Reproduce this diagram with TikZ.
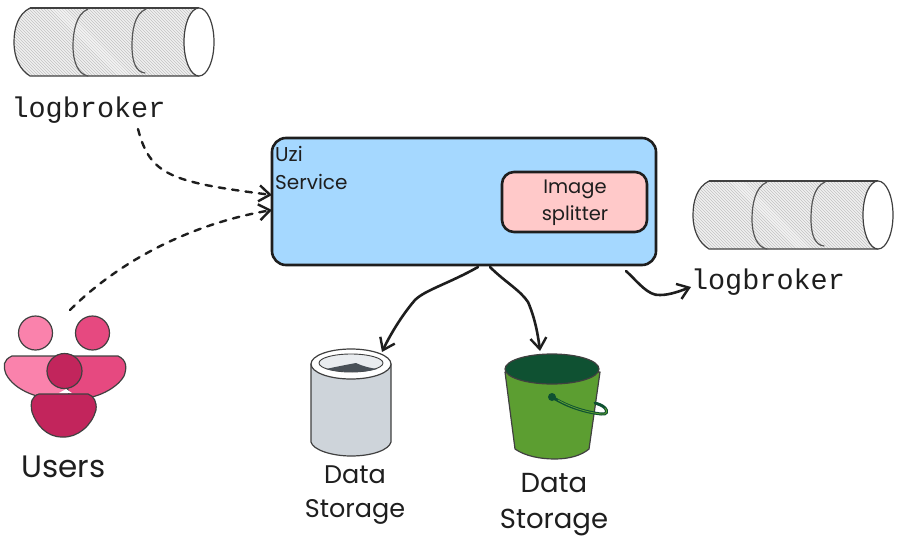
\documentclass[tikz,border=0pt]{standalone}
\usepackage{fontspec}
\setmainfont{Poppins}
\newfontfamily\monof{Liberation Mono}
\usetikzlibrary{arrows.meta}
\definecolor{ink}{HTML}{1E1E1E}
\definecolor{svcblue}{HTML}{A5D8FF}
\definecolor{splitpink}{HTML}{FFC9C9}
\definecolor{pinka}{HTML}{FA82AC}
\definecolor{pinkb}{HTML}{E64980}
\definecolor{pinkc}{HTML}{C2255C}
\definecolor{greybody}{HTML}{CED4DA}
\definecolor{greyin}{HTML}{E9ECEF}
\definecolor{greydark}{HTML}{495057}
\definecolor{bucketg}{HTML}{5C9E31}
\definecolor{bucketd}{HTML}{0F5132}
\tikzset{
  x=1pt,y=-1pt,
  conn/.style={draw=ink,line width=2.6pt,line cap=round,-{Straight Barb[length=11pt,width=16pt,line width=2.4pt]}},
  dashconn/.style={conn,line width=2.4pt,dash pattern=on 6.5pt off 7pt},
  mono/.style={font=\monof\fontsize{28.5}{31}\selectfont,text=ink,inner sep=0pt},
  hand/.style={text=ink,inner sep=0pt,align=center},
  outl/.style={draw=ink!85,line width=1.2pt,line join=round},
  hach/.style={draw=black!24,line width=.6pt},
  seam/.style={draw=ink!75,line width=1.2pt,line cap=round},
}
\newcommand{\logcyl}[2]{%
  \begin{scope}[shift={(#1,#2)}]
    \begin{scope}
      \clip (16,0) .. controls (4,6) and (0,20) .. (0,34) .. controls (0,50) and (6,62) .. (16,68) -- (185,68) -- (185,0) -- cycle;
      \fill[black!6] (0,0) rectangle (200,68);
      \foreach \i in {-24,...,90}{\draw[hach] (\i*3-10,0) -- ++(68,68);}
      \fill[white,opacity=.25] (36,0) -- (50,0) -- (118,68) -- (104,68) -- cycle;
    \end{scope}
    \draw[outl] (16,0) .. controls (4,6) and (0,20) .. (0,34) .. controls (0,50) and (6,62) .. (16,68) -- (185,68);
    \draw[outl] (16,0) -- (185,0);
    \draw[seam] (74,1) .. controls (62,6) and (59,24) .. (59,38) .. controls (59,54) and (64,66) .. (74,68);
    \draw[seam] (132,1) .. controls (120,6) and (118,24) .. (118,38) .. controls (118,54) and (122,64) .. (131,65);
    \draw[outl,fill=white] (185,34) ellipse [x radius=15,y radius=34];
  \end{scope}}
\begin{document}
\begin{tikzpicture}
\useasboundingbox (0,0) rectangle (902,541);
% logbroker cylinders
\logcyl{14}{8}
\logcyl{693}{181}
\node[mono] (logA) at (88.5,110) {logbroker};
\node[mono] (logB) at (768,282.5) {logbroker};
% service
\node[draw=ink,line width=2.6pt,fill=svcblue,rounded corners=14pt,minimum width=384pt,minimum height=127pt,inner sep=0pt] (svc) at (464,201.5) {};
\node[draw=ink,line width=2.6pt,fill=splitpink,rounded corners=12pt,minimum width=145pt,minimum height=60pt,inner sep=0pt] (split) at (574.5,202) {};
\node[hand,anchor=west,font=\fontsize{20}{22}\selectfont] (uzi) at (275,154) {Uzi};
\node[hand,anchor=west,font=\fontsize{20}{22}\selectfont] (service) at (275,182) {Service};
\node[hand,font=\fontsize{19.5}{27}\selectfont] (splitT) at (575,203) {Image\\splitter};
% users
\draw[outl,fill=pinka] (12,356) -- (66,356) -- (72,399) .. controls (40,402) and (14,390) .. (6,374) .. controls (3,366) and (3,360) .. (12,356) -- cycle;
\draw[outl,fill=pinkb] (60,356) -- (118,356) .. controls (127,360) and (127,368) .. (124,376) .. controls (116,390) and (92,401) .. (70,399) -- cycle;
\fill[white] (59,393) -- (66,389) -- (72,393) -- cycle;
\node[circle,outl,fill=pinka,minimum size=34pt,inner sep=0pt] (uA) at (35.5,333) {};
\node[circle,outl,fill=pinkb,minimum size=34pt,inner sep=0pt] (uB) at (92.5,333) {};
\node[circle,outl,fill=pinkc,minimum size=35pt,inner sep=0pt] (uC) at (64.5,371) {};
\draw[outl,fill=pinkc] (39,394) -- (88,394) .. controls (94,396) and (97,402) .. (96,410) .. controls (92,425) and (78,438) .. (62,437) .. controls (46,437) and (36,424) .. (32,412) .. controls (30,402) and (32,396) .. (39,394) -- cycle;
\node[hand,font=\fontsize{31}{33}\selectfont] (users) at (63.5,467) {Users};
% grey storage
\draw[outl,fill=greybody] (311,364) -- (311,442) .. controls (313,450) and (332,456) .. (351,456) .. controls (372,456) and (389,450) .. (391,442) -- (391,364) -- cycle;
\draw[outl,fill=white] (351,364) ellipse [x radius=40,y radius=15];
\draw[outl,fill=greyin,line width=.9pt] (351,363) ellipse [x radius=32,y radius=9];
\fill[greydark] (326,369) .. controls (335,367) and (345,365) .. (356,363) .. controls (362,366) and (370,368) .. (377,369) .. controls (365,373) and (340,373) .. (326,369) -- cycle;
\node[hand,font=\fontsize{25.5}{34}\selectfont] (dsA) at (355,495) {Data\\Storage};
% bucket
\draw[outl,fill=bucketg] (505,372) -- (515,449) .. controls (525,456) and (540,459) .. (555,459) .. controls (570,459) and (582,455) .. (589,449) -- (600,372) -- cycle;
\draw[outl,fill=bucketd] (552,369) ellipse [x radius=47,y radius=15];
\draw[draw=bucketd,line width=3pt,line cap=round] (552,397) .. controls (568,407) and (585,412) .. (601,414) .. controls (607,415) and (608,411) .. (605,408) .. controls (602,405) and (598,404) .. (595,403);
\draw[draw=bucketg,line width=.8pt,line cap=round] (558,400) .. controls (570,407) and (585,412) .. (601,414) .. controls (607,415) and (608,411) .. (605,408);
\node[circle,fill=bucketd,minimum size=8pt,inner sep=0pt] (knob) at (552,397) {};
\node[hand,font=\fontsize{27.5}{36}\selectfont] (dsB) at (554,505) {Data\\Storage};
% connectors
\coordinate (a1) at (138,129);
\coordinate (a2) at (70,310);
\coordinate (s1) at (272,195);
\coordinate (s2) at (272,210);
\coordinate (d0) at (478,267);
\coordinate (d1) at (382,352);
\coordinate (e0) at (490,267);
\coordinate (e1) at (540,351);
\coordinate (f0) at (626,271);
\coordinate (f1) at (691,287);
\draw[dashconn] (a1) .. controls (150,175) and (170,182) .. (s1);
\draw[dashconn] (a2) .. controls (115,265) and (185,225) .. (s2);
\draw[conn] (d0) .. controls (450,283) and (425,290) .. (415,300) .. controls (402,315) and (390,335) .. (d1);
\draw[conn] (e0) .. controls (505,282) and (520,290) .. (528,302) .. controls (535,318) and (538,335) .. (e1);
\draw[conn] (f0) .. controls (638,282) and (648,296) .. (660,295) .. controls (670,295) and (680,291) .. (f1);
\end{tikzpicture}
\end{document}
